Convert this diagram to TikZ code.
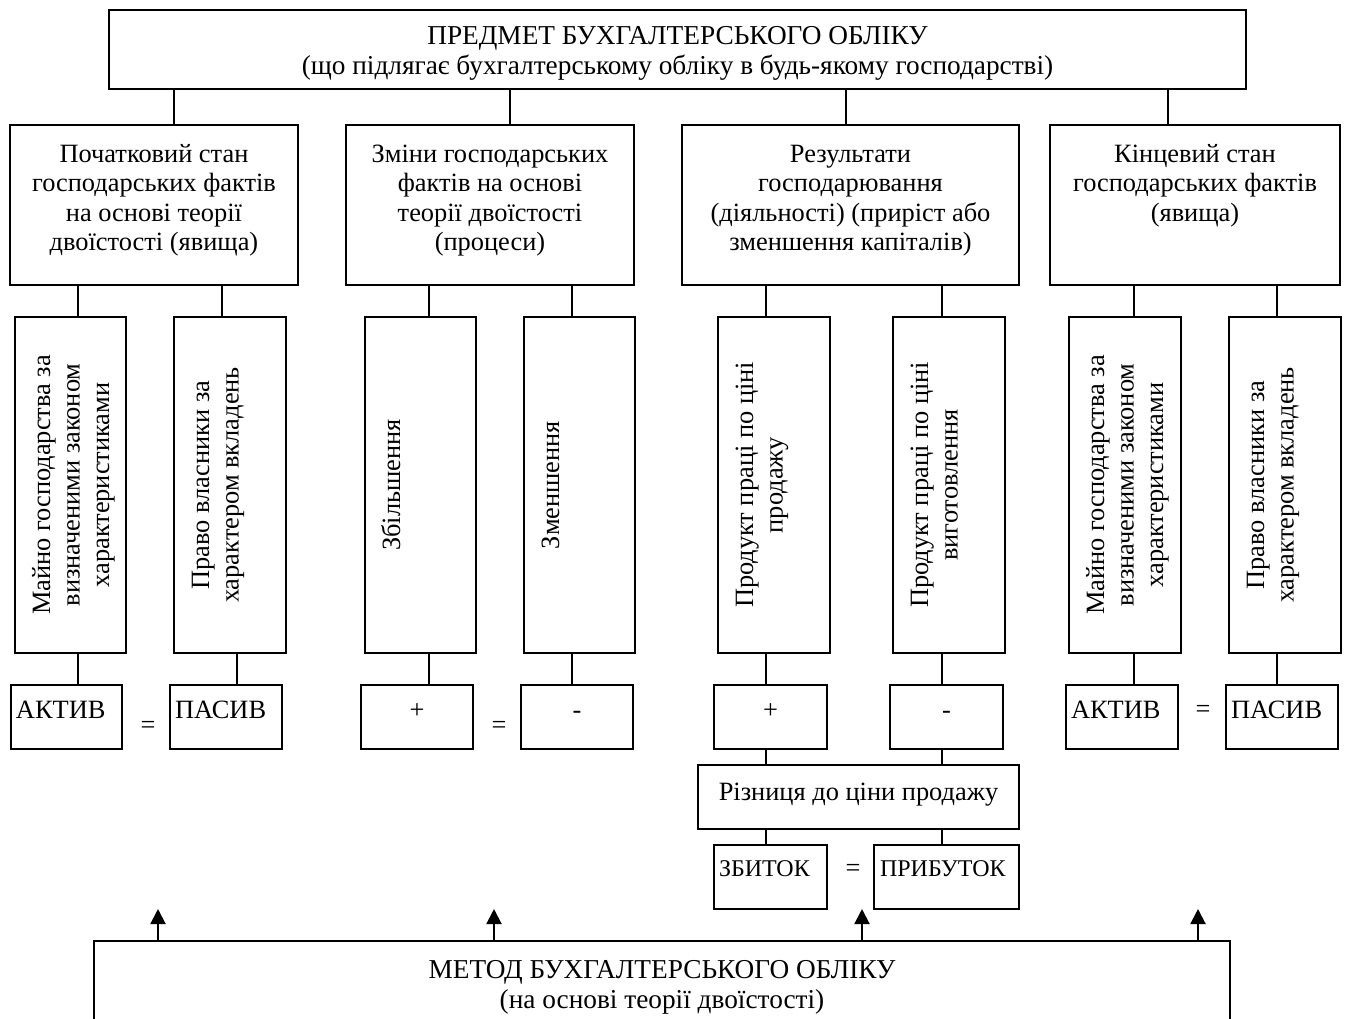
\documentclass[tikz,border=0pt]{standalone}
\usepackage{fontspec}
\setmainfont{Liberation Serif}
\usetikzlibrary{calc,arrows.meta}
% \boxat{name}{x1}{y1}{x2}{y2}: a framed rectangle between two corners
\newcommand\boxat[5]{%
  \node[frame, minimum width={(#4-#2)*1pt}, minimum height={(#5-#3)*1pt}]
    (#1) at ({(#2+#4)/2},{(#3+#5)/2}) {};}
% centred block of lines, first baseline at the node's base anchor
\newcommand\lines[2]{\parbox[t]{#1}{\centering #2}}
\begin{document}
\begin{tikzpicture}[x=1pt,y=-1pt,
  every node/.style={font=\fontsize{26.4}{29.5}\selectfont},
  frame/.style={draw, line width=1.6pt, inner sep=0pt, outer sep=0pt},
  txt/.style={inner sep=0pt, outer sep=0pt},
  small/.style={font=\fontsize{24}{28}\selectfont},
  large/.style={font=\fontsize{27.3}{30.5}\selectfont},
  link/.style={line width=1.4pt},
  uparrow/.style={line width=2pt, -{Triangle[width=15pt,length=15pt]}}]
\useasboundingbox (0,0) rectangle (1348,1018);

% ---- subject of accounting
\boxat{top}{109}{10}{1246}{89}
\node[txt, large, anchor=base] (topt) at ($(top.north)+(0,34)$)
  {\lines{1100pt}{ПРЕДМЕТ БУХГАЛТЕРСЬКОГО ОБЛІКУ\\(що підлягає бухгалтерському обліку в будь-якому господарстві)}};

% ---- four groups
\boxat{b1}{10}{125}{298}{285}
\boxat{b2}{346}{125}{634}{285}
\boxat{b3}{682}{125}{1019}{285}
\boxat{b4}{1050}{125}{1340}{285}
\node[txt, anchor=base] (b1t) at ($(b1.north)+(0,37)$)
  {\lines{330pt}{Початковий стан\\господарських фактів\\на основі теорії\\двоїстості (явища)}};
\node[txt, anchor=base] (b2t) at ($(b2.north)+(0,37)$)
  {\lines{330pt}{Зміни господарських\\фактів на основі\\теорії двоїстості\\(процеси)}};
\node[txt, anchor=base] (b3t) at ($(b3.north)+(0,37)$)
  {\lines{360pt}{Результати\\господарювання\\(діяльності) (приріст або\\зменшення капіталів)}};
\node[txt, anchor=base] (b4t) at ($(b4.north)+(0,37)$)
  {\lines{330pt}{Кінцевий стан\\господарських фактів\\(явища)}};

% ---- vertical boxes
\boxat{c1}{15}{317}{126}{653}
\boxat{c2}{174}{317}{286}{653}
\boxat{c3}{365}{317}{476}{653}
\boxat{c4}{524}{317}{635}{653}
\boxat{c5}{718}{317}{830}{653}
\boxat{c6}{893}{317}{1005}{653}
\boxat{c7}{1069}{317}{1181}{653}
\boxat{c8}{1229}{317}{1341}{653}
\node[txt, rotate=90, anchor=base] (c1t) at ($(c1.west)+(35,0)$)
  {\lines{320pt}{Майно господарства за\\визначеними законом\\характеристиками}};
\node[txt, rotate=90, anchor=base] (c2t) at ($(c2.west)+(35,0)$)
  {\lines{320pt}{Право власники за\\характером вкладень}};
\node[txt, rotate=90, anchor=base] (c3t) at ($(c3.west)+(35,0)$)
  {\lines{320pt}{Збільшення}};
\node[txt, rotate=90, anchor=base] (c4t) at ($(c4.west)+(35,0)$)
  {\lines{320pt}{Зменшення}};
\node[txt, rotate=90, anchor=base] (c5t) at ($(c5.west)+(35,0)$)
  {\lines{320pt}{Продукт праці по ціні\\продажу}};
\node[txt, rotate=90, anchor=base] (c6t) at ($(c6.west)+(35,0)$)
  {\lines{320pt}{Продукт праці по ціні\\виготовлення}};
\node[txt, rotate=90, anchor=base] (c7t) at ($(c7.west)+(35,0)$)
  {\lines{320pt}{Майно господарства за\\визначеними законом\\характеристиками}};
\node[txt, rotate=90, anchor=base] (c8t) at ($(c8.west)+(35,0)$)
  {\lines{320pt}{Право власники за\\характером вкладень}};

% ---- balance boxes
\boxat{d1}{11}{685}{122}{749}
\boxat{d2}{170}{685}{282}{749}
\boxat{d3}{361}{685}{473}{749}
\boxat{d4}{521}{685}{633}{749}
\boxat{d5}{714}{685}{827}{749}
\boxat{d6}{890}{685}{1003}{749}
\boxat{d7}{1066}{685}{1178}{749}
\boxat{d8}{1226}{685}{1338}{749}
\node[txt, anchor=base west] (d1t) at ($(d1.north west)+(5,33)$) {АКТИВ};
\node[txt, anchor=base west] (d2t) at ($(d2.north west)+(5,33)$) {ПАСИВ};
\node[txt, anchor=base] (d3t) at ($(d3.north)+(0,33)$) {+};
\node[txt, anchor=base] (d4t) at ($(d4.north)+(0,33)$) {-};
\node[txt, anchor=base] (d5t) at ($(d5.north)+(0,33)$) {+};
\node[txt, anchor=base] (d6t) at ($(d6.north)+(0,33)$) {-};
\node[txt, anchor=base west] (d7t) at ($(d7.north west)+(5,33)$) {АКТИВ};
\node[txt, anchor=base west] (d8t) at ($(d8.north west)+(5,33)$) {ПАСИВ};
\node[txt] (eq1) at (148,727) {=};
\node[txt] (eq2) at (499,727) {=};
\node[txt] (eq3) at (1203,711) {=};

% ---- difference and its outcome
\boxat{r}{698}{765}{1019}{829}
\node[txt, anchor=base] (rt) at ($(r.north)+(0,35)$) {Різниця до ціни продажу};
\boxat{z}{714}{845}{827}{909}
\boxat{p}{874}{845}{1019}{909}
\node[txt, small, anchor=base west] (zt) at ($(z.north west)+(5,31)$) {ЗБИТОК};
\node[txt, small, anchor=base west] (pt) at ($(p.north west)+(6,31)$) {ПРИБУТОК};
\node[txt] (eq4) at (853,870) {=};

% ---- method of accounting
\boxat{m}{94}{941}{1230}{1045}
\node[txt, large, anchor=base] (mt) at ($(m.north)+(0,37)$)
  {\lines{1000pt}{МЕТОД БУХГАЛТЕРСЬКОГО ОБЛІКУ\\(на основі теорії двоїстості)}};

% ---- connectors
\foreach \b/\x in {b1/174, b2/510, b3/846, b4/1168}
  \draw[link] (top.south -| \x,0) -- (\b.north -| \x,0);
\foreach \b/\c/\x in {b1/c1/78, b1/c2/222, b2/c3/429, b2/c4/572,
                      b3/c5/766, b3/c6/942, b4/c7/1134, b4/c8/1277}
  \draw[link] (\b.south -| \x,0) -- (\c.north -| \x,0);
\foreach \c/\d/\x in {c1/d1/78, c2/d2/237, c3/d3/429, c4/d4/572,
                      c5/d5/766, c6/d6/942, c7/d7/1134, c8/d8/1277}
  \draw[link] (\c.south -| \x,0) -- (\d.north -| \x,0);
\draw[link] (d5.south -| 766,0) -- (r.north -| 766,0);
\draw[link] (d6.south -| 942,0) -- (r.north -| 942,0);
\draw[link] (r.south -| 766,0) -- (z.north -| 766,0);
\draw[link] (r.south -| 942,0) -- (p.north -| 942,0);

% ---- arrows from the method up to the subject
\coordinate (a1) at (158,909);
\coordinate (a2) at (494,909);
\coordinate (a3) at (862,909);
\coordinate (a4) at (1198,909);
\foreach \a in {a1,a2,a3,a4}
  \draw[uparrow] (m.north -| \a) -- (\a);
\end{tikzpicture}
\end{document}
